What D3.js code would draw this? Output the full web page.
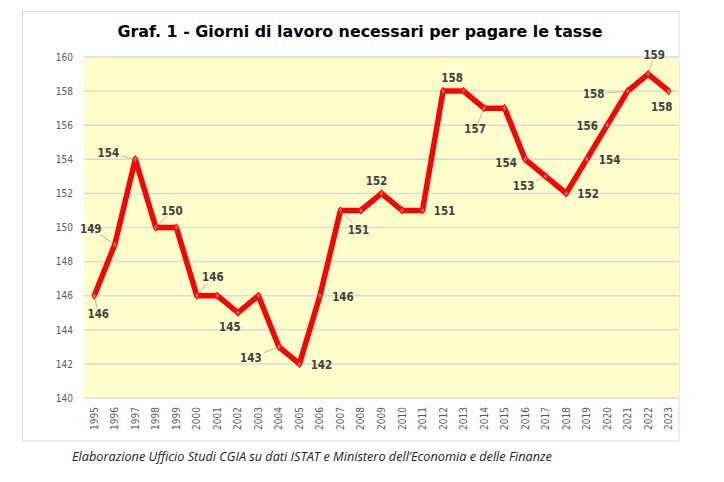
<!DOCTYPE html>
<html>
<head>
<meta charset="utf-8">
<script src="https://cdn.jsdelivr.net/npm/d3@7"></script>
<style>
  html, body { margin: 0; padding: 0; background: #ffffff; }
  svg { display: block; }
</style>
</head>
<body>
<svg id="chart" width="724" height="482"></svg>
<script>
// ---- data ----
const years = ["1995","1996","1997","1998","1999","2000","2001","2002","2003","2004","2005","2006","2007","2008","2009","2010","2011","2012","2013","2014","2015","2016","2017","2018","2019","2020","2021","2022","2023"];
const days  = [146,149,154,150,150,146,146,145,146,143,142,146,151,151,152,151,151,158,158,157,157,154,153,152,154,156,158,159,158];
const yTicks = [140,142,144,146,148,150,152,154,156,158,160];
const titleText = "Graf. 1 - Giorni di lavoro necessari per pagare le tasse";
const sourceText = "Elaborazione Ufficio Studi CGIA su dati ISTAT e Ministero dell\u2019Economia e delle Finanze";

// ---- label layout (offsets from point, px; null = no label) ----
const labelLayout = [
  {dx:4, dy:18, lead:true},   // 1995
  {dx:-24, dy:-16, lead:true},// 1996
  {dx:-27, dy:-6, lead:true}, // 1997
  {dx:16, dy:-17, lead:true}, // 1998
  null,                       // 1999
  {dx:16, dy:-19, lead:true}, // 2000
  null,                       // 2001
  {dx:-8, dy:14},             // 2002
  null,                       // 2003
  {dx:-28, dy:11, lead:true}, // 2004
  {dx:22, dy:1},              // 2005
  {dx:23, dy:1},              // 2006
  {dx:18, dy:19, lead:true},  // 2007
  null,                       // 2008
  {dx:-5, dy:-13},            // 2009
  null,                       // 2010
  {dx:22, dy:0},              // 2011
  {dx:9, dy:-13},             // 2012
  null,                       // 2013
  {dx:-9, dy:21, lead:true},  // 2014
  null,                       // 2015
  {dx:-19, dy:4},             // 2016
  {dx:-22, dy:10, lead:true}, // 2017
  {dx:22, dy:0},              // 2018
  {dx:23, dy:1},              // 2019
  {dx:-20, dy:1},             // 2020
  {dx:-34, dy:3, lead:true},  // 2021
  {dx:6, dy:-19, lead:true},  // 2022
  {dx:-7, dy:16}              // 2023
];

const svg = d3.select("#chart");

// outer frame
svg.append("rect")
  .attr("x", 22.5).attr("y", 11.5).attr("width", 656.5).attr("height", 429.5)
  .attr("fill", "#ffffff").attr("stroke", "#d9d9d9").attr("stroke-width", 1);

const plot = {left: 84, right: 679, top: 57, bottom: 398};

const x = d3.scaleBand().domain(years).range([plot.left, plot.right]).padding(0);
const y = d3.scaleLinear().domain([140, 160]).range([plot.bottom, plot.top]);
const cx = d => x(d) + x.bandwidth() / 2;

// plot background
svg.append("rect")
  .attr("x", plot.left).attr("y", plot.top)
  .attr("width", plot.right - plot.left).attr("height", plot.bottom - plot.top)
  .attr("fill", "#ffffcc");

// gridlines
svg.append("g").selectAll("line").data(yTicks).join("line")
  .attr("x1", plot.left).attr("x2", plot.right)
  .attr("y1", d => y(d)).attr("y2", d => y(d))
  .attr("stroke", "#d9d9d9").attr("stroke-width", 1.5);

const tickFont = "DejaVu Sans Condensed, DejaVu Sans, sans-serif";

// y axis
const yAxis = svg.append("g")
  .attr("transform", `translate(${plot.left},0)`)
  .call(d3.axisLeft(y).tickValues(yTicks).tickSize(0).tickPadding(11));
yAxis.select(".domain").remove();
yAxis.selectAll("text")
  .attr("font-family", tickFont)
  .attr("font-size", 10).attr("fill", "#595959");

// x axis
const xAxis = svg.append("g")
  .attr("transform", `translate(0,${plot.bottom})`)
  .call(d3.axisBottom(x).tickSize(0));
xAxis.select(".domain").remove();
xAxis.selectAll("text")
  .attr("font-family", tickFont)
  .attr("font-size", 10).attr("fill", "#595959")
  .attr("text-anchor", "end")
  .attr("transform", "rotate(-90)")
  .attr("x", -9).attr("y", 0).attr("dy", "0.35em");

// line
const pts = years.map((yr, i) => ({year: yr, value: days[i], lay: labelLayout[i]}));
svg.append("path")
  .datum(pts)
  .attr("fill", "none")
  .attr("stroke", "#ff0000")
  .attr("stroke-width", 5.5)
  .attr("stroke-linejoin", "round")
  .attr("d", d3.line().x(d => cx(d.year)).y(d => y(d.value)));

// markers
svg.append("g").selectAll("path").data(pts).join("path")
  .attr("transform", d => `translate(${cx(d.year)},${y(d.value)})`)
  .attr("d", d3.symbol().type(d3.symbolDiamond).size(16))
  .attr("fill", "#ff6060").attr("stroke", "#ff0000").attr("stroke-width", 1);

// data labels
const labG = svg.append("g");
const leadG = svg.append("g");
pts.filter(d => d.lay).forEach(d => {
  const px = cx(d.year), py = y(d.value);
  const lx = px + d.lay.dx, ly = py + d.lay.dy;
  const t = labG.append("text")
    .attr("x", lx).attr("y", ly).attr("dy", "0.36em")
    .attr("text-anchor", "middle")
    .attr("font-family", "DejaVu Sans Condensed, DejaVu Sans, sans-serif")
    .attr("font-weight", "bold").attr("font-size", 11.5)
    .attr("fill", "#404040")
    .text(d.value);
  if (d.lay.lead) {
    const bb = t.node().getBBox();
    const hw = bb.width / 2 + 2, hh = bb.height / 2 - 1;
    const vx = px - lx, vy = py - ly;
    const s = Math.min(Math.abs(vx) > 0 ? hw / Math.abs(vx) : Infinity,
                       Math.abs(vy) > 0 ? hh / Math.abs(vy) : Infinity);
    const sx = lx + vx * s, sy = ly + vy * s;
    const len = Math.hypot(px - sx, py - sy);
    const ex = px - (px - sx) / len * 3, ey = py - (py - sy) / len * 3;
    leadG.append("line")
      .attr("x1", sx).attr("y1", sy).attr("x2", ex).attr("y2", ey)
      .attr("stroke", "#a6a6a6").attr("stroke-width", 0.8);
  }
});

function fit(t, target) {
  const w = t.node().getComputedTextLength();
  const fs = parseFloat(t.attr("font-size"));
  t.attr("font-size", (fs * target / w).toFixed(2));
}

// title
const title = svg.append("text")
  .attr("x", 360).attr("y", 37)
  .attr("text-anchor", "middle")
  .attr("font-family", "DejaVu Sans, Verdana, sans-serif")
  .attr("font-weight", "bold").attr("font-size", 16)
  .attr("fill", "#000000")
  .text(titleText);
fit(title, 485);

// source note
const src = svg.append("text")
  .attr("x", 312).attr("y", 461)
  .attr("text-anchor", "middle")
  .attr("font-family", "Open Sans, sans-serif")
  .attr("font-style", "italic").attr("font-size", 12)
  .attr("fill", "#222222")
  .text(sourceText);
fit(src, 480);
</script>
</body>
</html>
